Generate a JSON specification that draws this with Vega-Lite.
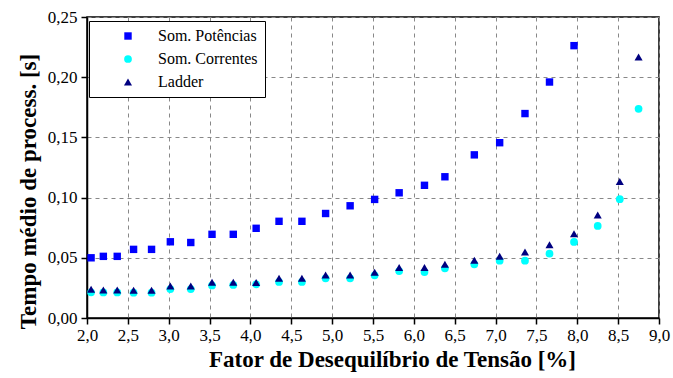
{
  "$schema": "https://vega.github.io/schema/vega-lite/v6.json",
  "autosize": "none",
  "width": 572,
  "height": 301,
  "padding": {"left": 87, "top": 17, "right": 14, "bottom": 60},
  "background": "white",
  "config": {
    "view": {"stroke": "black", "strokeWidth": 1.5},
    "font": "Liberation Serif",
    "axis": {
      "labelFont": "Liberation Serif",
      "titleFont": "Liberation Serif",
      "labelFontSize": 17,
      "titleFontSize": 23,
      "titleFontWeight": "bold",
      "labelColor": "black",
      "titleColor": "black",
      "labelFlush": false,
      "domainColor": "black",
      "domainWidth": 1.5,
      "tickColor": "black",
      "tickWidth": 1.5,
      "tickSize": 6,
      "gridColor": "#888888",
      "gridDash": [4, 4],
      "gridWidth": 1
    },
    "legend": {
      "labelFont": "Liberation Serif"
    }
  },
  "data": {
    "values": [
      {"x": 2.05, "y": 0.0500, "s": "Som. Potências"},
      {"x": 2.20, "y": 0.0512, "s": "Som. Potências"},
      {"x": 2.37, "y": 0.0512, "s": "Som. Potências"},
      {"x": 2.57, "y": 0.0570, "s": "Som. Potências"},
      {"x": 2.79, "y": 0.0570, "s": "Som. Potências"},
      {"x": 3.02, "y": 0.0633, "s": "Som. Potências"},
      {"x": 3.27, "y": 0.0627, "s": "Som. Potências"},
      {"x": 3.53, "y": 0.0695, "s": "Som. Potências"},
      {"x": 3.79, "y": 0.0695, "s": "Som. Potências"},
      {"x": 4.07, "y": 0.0745, "s": "Som. Potências"},
      {"x": 4.35, "y": 0.0803, "s": "Som. Potências"},
      {"x": 4.63, "y": 0.0803, "s": "Som. Potências"},
      {"x": 4.92, "y": 0.0868, "s": "Som. Potências"},
      {"x": 5.22, "y": 0.0932, "s": "Som. Potências"},
      {"x": 5.52, "y": 0.0985, "s": "Som. Potências"},
      {"x": 5.82, "y": 0.1040, "s": "Som. Potências"},
      {"x": 6.13, "y": 0.1102, "s": "Som. Potências"},
      {"x": 6.38, "y": 0.1173, "s": "Som. Potências"},
      {"x": 6.74, "y": 0.1355, "s": "Som. Potências"},
      {"x": 7.05, "y": 0.1456, "s": "Som. Potências"},
      {"x": 7.36, "y": 0.1698, "s": "Som. Potências"},
      {"x": 7.66, "y": 0.1960, "s": "Som. Potências"},
      {"x": 7.96, "y": 0.2262, "s": "Som. Potências"},

      {"x": 2.05, "y": 0.0213, "s": "Som. Correntes"},
      {"x": 2.20, "y": 0.0212, "s": "Som. Correntes"},
      {"x": 2.37, "y": 0.0212, "s": "Som. Correntes"},
      {"x": 2.57, "y": 0.0210, "s": "Som. Correntes"},
      {"x": 2.79, "y": 0.0210, "s": "Som. Correntes"},
      {"x": 3.02, "y": 0.0240, "s": "Som. Correntes"},
      {"x": 3.27, "y": 0.0240, "s": "Som. Correntes"},
      {"x": 3.53, "y": 0.0270, "s": "Som. Correntes"},
      {"x": 3.79, "y": 0.0275, "s": "Som. Correntes"},
      {"x": 4.07, "y": 0.0280, "s": "Som. Correntes"},
      {"x": 4.35, "y": 0.0300, "s": "Som. Correntes"},
      {"x": 4.63, "y": 0.0300, "s": "Som. Correntes"},
      {"x": 4.92, "y": 0.0330, "s": "Som. Correntes"},
      {"x": 5.22, "y": 0.0330, "s": "Som. Correntes"},
      {"x": 5.52, "y": 0.0355, "s": "Som. Correntes"},
      {"x": 5.82, "y": 0.0390, "s": "Som. Correntes"},
      {"x": 6.13, "y": 0.0382, "s": "Som. Correntes"},
      {"x": 6.38, "y": 0.0413, "s": "Som. Correntes"},
      {"x": 6.74, "y": 0.0446, "s": "Som. Correntes"},
      {"x": 7.05, "y": 0.0476, "s": "Som. Correntes"},
      {"x": 7.36, "y": 0.0476, "s": "Som. Correntes"},
      {"x": 7.66, "y": 0.0534, "s": "Som. Correntes"},
      {"x": 7.96, "y": 0.0632, "s": "Som. Correntes"},
      {"x": 8.25, "y": 0.0765, "s": "Som. Correntes"},
      {"x": 8.52, "y": 0.0987, "s": "Som. Correntes"},
      {"x": 8.75, "y": 0.1737, "s": "Som. Correntes"},

      {"x": 2.05, "y": 0.0238, "s": "Ladder"},
      {"x": 2.20, "y": 0.0233, "s": "Ladder"},
      {"x": 2.37, "y": 0.0233, "s": "Ladder"},
      {"x": 2.57, "y": 0.0230, "s": "Ladder"},
      {"x": 2.79, "y": 0.0230, "s": "Ladder"},
      {"x": 3.02, "y": 0.0266, "s": "Ladder"},
      {"x": 3.27, "y": 0.0266, "s": "Ladder"},
      {"x": 3.53, "y": 0.0296, "s": "Ladder"},
      {"x": 3.79, "y": 0.0296, "s": "Ladder"},
      {"x": 4.07, "y": 0.0294, "s": "Ladder"},
      {"x": 4.35, "y": 0.0330, "s": "Ladder"},
      {"x": 4.63, "y": 0.0330, "s": "Ladder"},
      {"x": 4.92, "y": 0.0357, "s": "Ladder"},
      {"x": 5.22, "y": 0.0357, "s": "Ladder"},
      {"x": 5.52, "y": 0.0380, "s": "Ladder"},
      {"x": 5.82, "y": 0.0420, "s": "Ladder"},
      {"x": 6.13, "y": 0.0420, "s": "Ladder"},
      {"x": 6.38, "y": 0.0446, "s": "Ladder"},
      {"x": 6.74, "y": 0.0480, "s": "Ladder"},
      {"x": 7.05, "y": 0.0513, "s": "Ladder"},
      {"x": 7.36, "y": 0.0549, "s": "Ladder"},
      {"x": 7.66, "y": 0.0609, "s": "Ladder"},
      {"x": 7.96, "y": 0.0700, "s": "Ladder"},
      {"x": 8.25, "y": 0.0856, "s": "Ladder"},
      {"x": 8.52, "y": 0.1133, "s": "Ladder"},
      {"x": 8.75, "y": 0.2167, "s": "Ladder"}
    ]
  },
  "mark": {"type": "point", "filled": true, "opacity": 1},
  "encoding": {
    "x": {
      "field": "x",
      "type": "quantitative",
      "scale": {"domain": [2, 9], "nice": false, "zero": false, "padding": 0},
      "axis": {
        "title": "Fator de Desequilíbrio de Tensão [%]",
        "values": [2, 2.5, 3, 3.5, 4, 4.5, 5, 5.5, 6, 6.5, 7, 7.5, 8, 8.5, 9],
        "labelExpr": "replace(format(datum.value, '.1f'), '.', ',')",
        "titleX": 305,
        "titlePadding": 5,
        "labelPadding": 3
      }
    },
    "y": {
      "field": "y",
      "type": "quantitative",
      "scale": {"domain": [0, 0.25], "nice": false, "padding": 0},
      "axis": {
        "title": "Tempo médio de process. [s]",
        "values": [0, 0.05, 0.1, 0.15, 0.2, 0.25],
        "labelExpr": "replace(format(datum.value, '.2f'), '.', ',')",
        "titleY": 174,
        "titlePadding": 7,
        "labelPadding": 4
      }
    },
    "color": {
      "field": "s",
      "type": "nominal",
      "scale": {
        "domain": ["Som. Potências", "Som. Correntes", "Ladder"],
        "range": ["#0000ff", "#00ffff", "#000080"]
      },
      "legend": {
        "title": null,
        "orient": "none",
        "legendX": 2,
        "legendY": 4,
        "fillColor": "white",
        "strokeColor": "black",
        "padding": 7,
        "symbolOffset": 24,
        "labelOffset": 22,
        "labelFontSize": 16,
        "labelColor": "black",
        "rowPadding": 7,
        "symbolSize": 64,
        "symbolOpacity": 1
      }
    },
    "shape": {
      "field": "s",
      "type": "nominal",
      "scale": {
        "domain": ["Som. Potências", "Som. Correntes", "Ladder"],
        "range": ["square", "circle", "triangle-up"]
      },
      "legend": null
    },
    "size": {
      "field": "s",
      "type": "nominal",
      "scale": {
        "domain": ["Som. Potências", "Som. Correntes", "Ladder"],
        "range": [55, 65, 80]
      },
      "legend": null
    },
    "order": {"field": "s", "sort": "descending"}
  }
}
